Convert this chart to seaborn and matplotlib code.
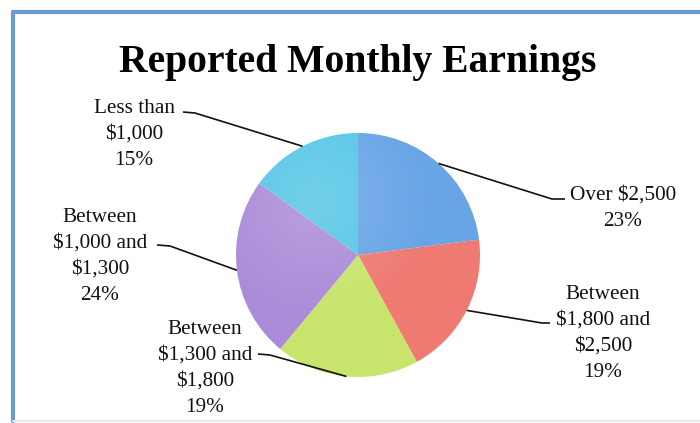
import numpy as np
import matplotlib
matplotlib.use("Agg")
import matplotlib.pyplot as plt
import seaborn as sns
from matplotlib.lines import Line2D
from matplotlib.patches import Circle

# ---- data ----
categories = ["Over $2,500", "Between\n$1,800 and\n$2,500", "Between\n$1,300 and\n$1,800",
              "Between\n$1,000 and\n$1,300", "Less than\n$1,000"]
percents = [23, 19, 19, 24, 15]
colors = ["#68a4e6", "#ee7a72", "#c8e46c", "#ab8bd8", "#56c6e6"]
title = "Reported Monthly Earnings"

# ---- layout (pixel coords, y from top) ----
W, H = 700, 423
center_px = (358, 255)
radius_px = 122
label_pos = [(623, 208), (603, 333), (205, 368), (100, 256), (134, 134)]
elbow_pos = [(552, 199), (542, 323), (270, 355), (170, 246), (195, 113)]
line_end = [(565, 199), (550, 323), (258, 354), (157, 245), (183, 112)]

sns.set_theme(style="white")
plt.rcParams['font.family'] = ['Liberation Serif', 'DejaVu Serif']

fig = plt.figure(figsize=(W / 100, H / 100), dpi=100)
ax = fig.add_axes([0, 0, 1, 1])

def fy(y):
    return H - y

wedges, _ = ax.pie(percents, colors=colors, startangle=90, counterclock=False,
                   center=(center_px[0], fy(center_px[1])), radius=radius_px,
                   wedgeprops=dict(linewidth=0, antialiased=True), frame=True)
ax.set_xlim(0, W)
ax.set_ylim(0, H)
ax.set_aspect('equal')
ax.axis('off')

# subtle lighting overlay on the pie
cx, cy = center_px[0], fy(center_px[1])
n = 256
xs = np.linspace(-1, 1, n)
X, Y = np.meshgrid(xs, xs)
light = np.clip(0.5 * (1 - np.hypot(X + 0.35, Y - 0.45)), 0, 1)
rgba = np.zeros((n, n, 4))
rgba[..., :3] = 1.0
rgba[..., 3] = light * 0.35
im = ax.imshow(rgba, extent=(cx - radius_px, cx + radius_px, cy - radius_px, cy + radius_px),
               origin='lower', zorder=3, interpolation='bilinear')
clip = Circle((cx, cy), radius_px, transform=ax.transData)
im.set_clip_path(clip)

# leader lines + labels
for w, cat, p, lp, el, le in zip(wedges, categories, percents, label_pos, elbow_pos, line_end):
    mid = np.deg2rad((w.theta1 + w.theta2) / 2)
    ex = cx + radius_px * np.cos(mid)
    ey = cy + radius_px * np.sin(mid)
    ax.plot([ex, el[0], le[0]], [ey, fy(el[1]), fy(le[1])], color="#111111", lw=1.2,
            solid_capstyle='butt', zorder=4)
    ax.text(lp[0], fy(lp[1]), f"{cat}\n{p}%", ha='center', va='center', fontsize=15.3,
            linespacing=1.5, color="#111111")

ax.set_xlim(0, W)
ax.set_ylim(0, H)

ax.text(358, fy(62), title, ha='center', va='center', fontsize=28.5, fontweight='bold',
        color="#000000")

# frame
fig.add_artist(Line2D([13 / W, 13 / W], [fy(12) / H, fy(421) / H], color="#6b9bd6", lw=3))
fig.add_artist(Line2D([13 / W, 1.0], [fy(12) / H, fy(12) / H], color="#6b9bd6", lw=3))
fig.add_artist(Line2D([13 / W, 1.0], [fy(421) / H, fy(421) / H], color="#e6e8ec", lw=1.5))

fig.savefig("out.png", dpi=100, facecolor="white")
